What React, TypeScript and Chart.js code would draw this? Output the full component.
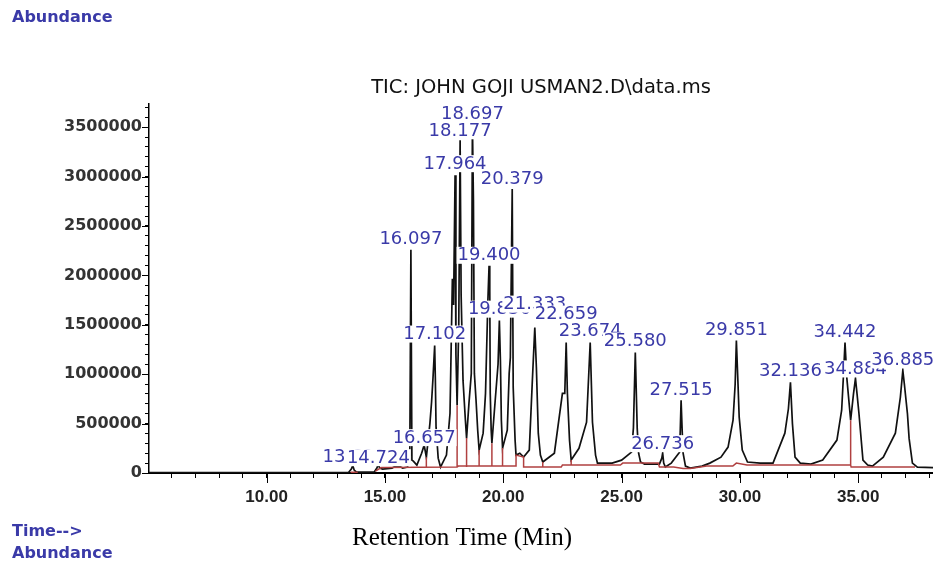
import React, { useEffect, useRef } from "react";
import { Chart, registerables } from "chart.js";

Chart.register(...registerables);

// ---- axis ranges ----
const X_MIN = 5.03;
const X_MAX = 38.16;
const Y_MAX = 3740000;
const xMajorTicks = [10, 15, 20, 25, 30, 35];
const yMajorStep = 500000;
const yMinorStep = 100000;

// ---- peak table (retention time, label text, label level in abundance) ----
const peakTimes = [13.69, 14.724, 16.097, 16.657, 17.102, 17.964, 18.177, 18.697, 19.4, 19.836, 20.379, 21.333, 22.659, 23.674, 25.58, 26.736, 27.515, 29.851, 32.136, 34.442, 34.884, 36.885];
const peakNames = ["13.690", "14.724", "16.097", "16.657", "17.102", "17.964", "18.177", "18.697", "19.400", "19.836", "20.379", "21.333", "22.659", "23.674", "25.580", "26.736", "27.515", "29.851", "32.136", "34.442", "34.884", "36.885"];
const labelLevels = [170000, 160000, 2379000, 363000, 1411000, 3135000, 3468000, 3639000, 2208000, 1663000, 2984000, 1714000, 1613000, 1441000, 1341000, 302000, 847000, 1452000, 1038000, 1431000, 1058000, 1149000];

// ---- TIC trace [time (min), abundance] ----
const ticTrace: [number, number][] = [
  [5.0, 3000], [13.45, 3000], [13.58, 40000], [13.64, 75000], [13.7, 30000], [13.8, 8000],
  [14.55, 10000], [14.66, 50000], [14.72, 90000], [14.78, 50000], [14.9, 40000], [15.3, 50000],
  [15.45, 70000], [15.6, 70000], [15.75, 50000], [15.95, 60000], [16.05, 131000], [16.097, 2258000],
  [16.14, 131000], [16.2, 120000], [16.35, 80000], [16.55, 200000], [16.657, 282000], [16.75, 160000],
  [16.9, 500000], [16.97, 716000], [17.03, 958000], [17.102, 1290000], [17.13, 958000], [17.16, 464000],
  [17.25, 150000], [17.35, 60000], [17.6, 181000], [17.75, 605000], [17.85, 1966000], [17.9, 1700000],
  [17.964, 3014000], [18.0, 1200000], [18.05, 685000], [18.12, 1500000], [18.177, 3367000], [18.22, 1800000],
  [18.3, 937000], [18.4, 534000], [18.45, 353000], [18.55, 705000], [18.65, 1008000], [18.697, 3538000],
  [18.74, 2752000], [18.78, 1008000], [18.85, 736000], [18.92, 433000], [18.98, 232000], [19.15, 403000],
  [19.25, 806000], [19.35, 1744000], [19.4, 2097000], [19.43, 1845000], [19.45, 806000], [19.49, 433000],
  [19.52, 302000], [19.66, 736000], [19.78, 1100000], [19.836, 1542000], [19.88, 1139000], [19.92, 534000],
  [19.97, 252000], [20.17, 433000], [20.25, 1008000], [20.3, 1169000], [20.379, 2873000], [20.42, 867000],
  [20.5, 333000], [20.54, 181000], [20.7, 200000], [20.86, 161000], [21.1, 232000], [21.23, 937000],
  [21.333, 1472000], [21.4, 1068000], [21.48, 403000], [21.57, 181000], [21.67, 111000], [22.16, 200000],
  [22.5, 806000], [22.6, 806000], [22.659, 1320000], [22.71, 806000], [22.8, 333000], [22.87, 131000],
  [23.2, 250000], [23.52, 514000], [23.674, 1320000], [23.77, 514000], [23.9, 181000], [23.98, 100000],
  [24.6, 100000], [25.0, 130000], [25.42, 212000], [25.5, 454000], [25.58, 1220000], [25.66, 454000],
  [25.72, 200000], [25.8, 111000], [25.97, 90000], [26.6, 90000], [26.7, 150000], [26.736, 202000],
  [26.78, 100000], [26.85, 60000], [27.1, 100000], [27.45, 210000], [27.48, 433000], [27.515, 736000],
  [27.56, 433000], [27.6, 200000], [27.7, 70000], [27.9, 50000], [28.4, 70000], [28.73, 100000],
  [29.2, 160000], [29.5, 262000], [29.71, 534000], [29.8, 900000], [29.851, 1341000], [29.92, 900000],
  [29.97, 565000], [30.1, 232000], [30.32, 111000], [30.85, 100000], [31.4, 100000], [31.9, 403000],
  [32.05, 650000], [32.136, 917000], [32.22, 500000], [32.33, 161000], [32.55, 100000], [33.0, 90000],
  [33.5, 131000], [34.1, 333000], [34.3, 635000], [34.37, 958000], [34.442, 1320000], [34.52, 958000],
  [34.68, 534000], [34.8, 800000], [34.884, 958000], [34.95, 800000], [35.03, 605000], [35.2, 131000],
  [35.4, 80000], [35.6, 70000], [36.06, 160000], [36.57, 403000], [36.78, 766000], [36.885, 1038000],
  [36.95, 900000], [37.08, 600000], [37.15, 350000], [37.29, 100000], [37.5, 60000], [38.2, 55000],
];

// ---- integration baseline and peak-split drops (null = break) ----
const integrationBaseline: ([number, number] | null)[] = [
  [13.55, 8000], [13.85, 8000], null,
  [14.6, 20000], [14.85, 55000], [18.05, 60000], [18.1, 70000], [20.54, 70000], [20.54, 181000],
  [20.86, 161000], [20.86, 60000], [22.45, 60000], [22.5, 80000], [24.95, 80000], [25.05, 100000],
  [26.55, 100000], [26.6, 60000], [27.2, 60000], [27.6, 45000], [27.9, 45000], [28.6, 70000],
  [29.7, 70000], [29.85, 100000], [30.3, 80000], [34.68, 80000], [34.7, 60000], [37.4, 60000], null,
  [16.75, 60000], [16.75, 160000], null,
  [18.05, 60000], [18.05, 685000], null,
  [18.45, 60000], [18.45, 353000], null,
  [18.98, 70000], [18.98, 232000], null,
  [19.52, 70000], [19.52, 302000], null,
  [19.97, 70000], [19.97, 252000], null,
  [21.67, 60000], [21.67, 111000], null,
  [22.87, 80000], [22.87, 131000], null,
  [34.68, 80000], [34.68, 534000],
];

const TITLE = "TIC: JOHN GOJI USMAN2.D\\data.ms";
const X_TITLE = "Retention Time (Min)";
const BLUE = "#3a3aa8";
const RED = "#b04040";

const peakLabelPlugin = {
  id: "peakLabels",
  afterDatasetsDraw(chart: any) {
    const { ctx, scales } = chart;
    const xs = scales.x;
    const ys = scales.y;
    ctx.save();
    ctx.font = "18px 'DejaVu Sans'";
    ctx.textAlign = "center";
    ctx.textBaseline = "middle";
    for (let i = 0; i < peakTimes.length; i++) {
      const px = xs.getPixelForValue(peakTimes[i]);
      const py = ys.getPixelForValue(labelLevels[i]);
      const w = ctx.measureText(peakNames[i]).width;
      ctx.fillStyle = "#ffffff";
      ctx.fillRect(px - w / 2 - 1, py - 8, w + 2, 17);
      ctx.fillStyle = BLUE;
      ctx.fillText(peakNames[i], px, py + 1);
    }
    ctx.restore();
  },
};

const extrasPlugin = {
  id: "extras",
  afterDraw(chart: any) {
    const { ctx, scales, chartArea } = chart;
    const xs = scales.x;
    const ys = scales.y;
    ctx.save();
    ctx.strokeStyle = "#000";
    ctx.lineWidth = 1;
    ctx.beginPath();
    for (const v of xMajorTicks) {
      const px = Math.round(xs.getPixelForValue(v)) + 0.5;
      ctx.moveTo(px, chartArea.bottom);
      ctx.lineTo(px, chartArea.bottom + 10);
    }
    for (let v = 0; v <= Y_MAX; v += yMajorStep) {
      const py = Math.round(ys.getPixelForValue(v)) + 0.5;
      ctx.moveTo(chartArea.left - 7, py);
      ctx.lineTo(chartArea.left, py);
    }
    ctx.stroke();
    ctx.fillStyle = BLUE;
    ctx.font = "bold 16px 'DejaVu Sans'";
    ctx.textAlign = "left";
    ctx.textBaseline = "middle";
    ctx.fillText("Abundance", 12, 18);
    ctx.fillText("Time-->", 12, 532);
    ctx.fillText("Abundance", 12, 554);
    ctx.fillStyle = "#000";
    ctx.font = "25px 'Liberation Serif'";
    ctx.textAlign = "center";
    ctx.fillText(X_TITLE, 462, 538);
    ctx.restore();
  },
};

export default function App() {
  const ref = useRef<HTMLCanvasElement>(null);
  useEffect(() => {
    const canvas = ref.current;
    if (!canvas) return;
    const chart = new Chart(canvas, {
      type: "line",
      data: {
        datasets: [
          {
            label: "Integration baseline",
            data: integrationBaseline.map((p) => (p ? { x: p[0], y: p[1] } : { x: NaN, y: null })) as any,
            borderColor: RED,
            borderWidth: 1.5,
            pointRadius: 0,
            tension: 0,
            spanGaps: false,
            order: 0,
          },
          {
            label: "TIC",
            data: ticTrace.map((p) => ({ x: p[0], y: p[1] })),
            borderColor: "#111111",
            borderWidth: 1.7,
            pointRadius: 0,
            tension: 0,
            order: 1,
          },
        ],
      },
      options: {
        animation: false,
        responsive: false,
        events: [],
        layout: { padding: 0 },
        plugins: {
          legend: { display: false },
          tooltip: { enabled: false },
          title: {
            display: true,
            text: TITLE,
            fullSize: false,
            color: "#111",
            font: { family: "'DejaVu Sans'", size: 19.5, weight: "normal" },
            padding: { top: 76, bottom: 4 },
          },
        },
        scales: {
          x: {
            type: "linear",
            min: X_MIN,
            max: X_MAX,
            afterFit: (s: any) => {
              s.height = 93;
            },
            afterBuildTicks: (s: any) => {
              const ticks: { value: number }[] = [];
              for (let v = Math.ceil(X_MIN); v <= X_MAX; v += 1) ticks.push({ value: v });
              s.ticks = ticks;
            },
            ticks: {
              autoSkip: false,
              maxRotation: 0,
              minRotation: 0,
              padding: 0,
              color: "#222",
              font: { family: "'Liberation Sans'", size: 17, weight: "bold", lineHeight: 2.25 },
              callback: (v: any) => {
                const n = Number(v);
                const r = Math.round(n);
                return Math.abs(n - r) < 1e-6 && xMajorTicks.includes(r) ? r.toFixed(2) : "";
              },
            },
            grid: { drawOnChartArea: false, drawTicks: true, tickLength: 5, color: "#000" },
            border: { display: true, color: "#000", width: 2 },
          },
          y: {
            type: "linear",
            min: 0,
            max: Y_MAX,
            afterFit: (s: any) => {
              s.width = 149;
            },
            afterBuildTicks: (s: any) => {
              const ticks: { value: number }[] = [];
              for (let v = 0; v <= Y_MAX; v += yMinorStep) ticks.push({ value: v });
              s.ticks = ticks;
            },
            ticks: {
              autoSkip: false,
              padding: 3,
              color: "#333",
              font: { family: "'DejaVu Sans'", size: 16, weight: "bold" },
              callback: (v: any) => {
                const n = Math.round(Number(v));
                return n % yMajorStep === 0 ? String(n) : "";
              },
            },
            grid: { drawOnChartArea: false, drawTicks: true, tickLength: 4, color: "#000" },
            border: { display: true, color: "#000", width: 1.5 },
          },
        },
      },
      plugins: [peakLabelPlugin, extrasPlugin],
    });
    return () => chart.destroy();
  }, []);
  return (
    <div style={{ position: "fixed", left: 0, top: 0, width: 933, height: 566, background: "#fff" }}>
      <canvas ref={ref} width={933} height={566} style={{ display: "block", width: 933, height: 566 }} />
    </div>
  );
}
